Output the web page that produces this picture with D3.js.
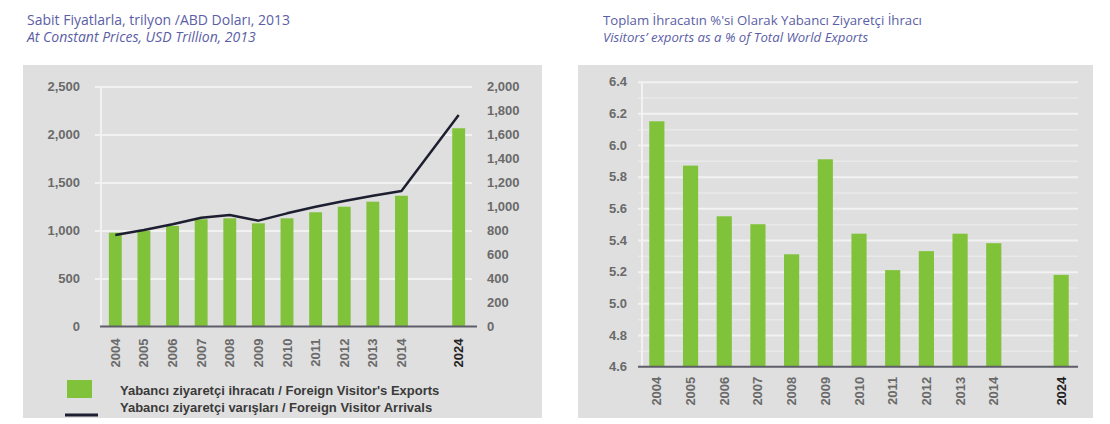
<!DOCTYPE html>
<html>
<head>
<meta charset="utf-8">
<script src="https://cdn.jsdelivr.net/npm/d3@7"></script>
<style>
  body { margin: 0; background: #fff; }
  svg { display: block; }
</style>
</head>
<body>
<svg width="1110" height="424"></svg>
<script>
// veriler
const years = ["2004","2005","2006","2007","2008","2009","2010","2011","2012","2013","2014","2024"];
const visitorExports = [977, 998, 1047, 1117, 1127, 1075, 1127, 1190, 1248, 1300, 1362, 2065];
const visitorArrivals = [762, 804, 852, 907, 929, 882, 943, 998, 1046, 1090, 1129, 1762];
const exportShare = [6.15, 5.87, 5.55, 5.50, 5.31, 5.91, 5.44, 5.21, 5.33, 5.44, 5.38, 5.18];
const leftTicks = [0, 500, 1000, 1500, 2000, 2500];
const rightTicks = [0, 200, 400, 600, 800, 1000, 1200, 1400, 1600, 1800, 2000];
const shareTicks = [4.6, 4.8, 5.0, 5.2, 5.4, 5.6, 5.8, 6.0, 6.2, 6.4];
const titlesLeft = ["Sabit Fiyatlarla, trilyon /ABD Doları, 2013", "At Constant Prices, USD Trillion, 2013"];
const titlesRight = ["Toplam İhracatın %'si Olarak Yabancı Ziyaretçi İhracı", "Visitors’ exports as a % of Total World Exports"];
const legendLabels = ["Yabancı ziyaretçi ihracatı / Foreign Visitor's Exports", "Yabancı ziyaretçi varışları / Foreign Visitor Arrivals"];

// 2014 ile 2024 arasinda bos bir yer var
const slots = [...years.slice(0, 11), "gap", "2024"];

const svg = d3.select("svg");
const bg = "#dfdfdf", green = "#80c23a", grid = "#f2f2f2";
const tickFont = "'Liberation Sans', Arial, sans-serif";
const titleFont = "'Open Sans', 'Noto Sans', sans-serif";

// basliklar
const drawTitles = (x, lines, size) => {
    const t = svg.append("g").attr("fill", "#5b5ea6").style("font-family", titleFont).style("font-size", size + "px");
    t.append("text").attr("x", x).attr("y", 25).text(lines[0]);
    t.append("text").attr("x", x).attr("y", 42).style("font-style", "italic").text(lines[1]);
};
drawTitles(27, titlesLeft, 14);
drawTitles(603, titlesRight, 13.2);

// arka plan panelleri
svg.append("rect").attr("x", 23).attr("y", 65).attr("width", 519).attr("height", 353).attr("fill", bg);
svg.append("rect").attr("x", 578).attr("y", 65).attr("width", 515).attr("height", 353).attr("fill", bg);

const styleTicks = sel => sel.selectAll("text")
    .style("font-family", tickFont).style("font-size", "13px").style("font-weight", "bold").attr("fill", "#6a6a6a");

//=============== sol grafik ================
{
    const x = d3.scaleBand().domain(slots).range([101, 473]).paddingInner(0.55).paddingOuter(0.275);
    const y = d3.scaleLinear().domain([0, 2500]).range([326.5, 86.5]);
    const y2 = d3.scaleLinear().domain([0, 2000]).range([326.5, 86.5]);
    const g = svg.append("g");

    // izgara
    g.append("g").attr("transform", "translate(95,0)")
        .call(d3.axisLeft(y).tickValues(leftTicks.slice(1)).tickSize(-377).tickFormat(""))
        .call(a => a.select(".domain").remove())
        .selectAll("line").attr("stroke", grid).attr("stroke-width", 2);
    g.append("line").attr("x1", 101).attr("x2", 101).attr("y1", y(2500)).attr("y2", y(0))
        .attr("stroke", grid).attr("stroke-width", 2);

    // eksenler
    g.append("g").attr("transform", "translate(83,0)")
        .call(d3.axisLeft(y).tickValues(leftTicks).tickSize(0).tickFormat(d3.format(",")))
        .call(a => a.select(".domain").remove())
        .call(styleTicks);
    g.append("g").attr("transform", "translate(484,0)")
        .call(d3.axisRight(y2).tickValues(rightTicks).tickSize(0).tickFormat(d3.format(",")))
        .call(a => a.select(".domain").remove())
        .call(styleTicks);

    // cubuklar
    g.selectAll(".bar").data(visitorExports).enter().append("rect")
        .attr("x", (d, i) => x(years[i]))
        .attr("y", d => y(d))
        .attr("width", x.bandwidth())
        .attr("height", d => y(0) - y(d))
        .attr("fill", green);

    // taban cizgisi
    g.append("line").attr("x1", 100).attr("x2", 477).attr("y1", y(0)).attr("y2", y(0))
        .attr("stroke", "#5e5e6a").attr("stroke-width", 2);

    // ziyaretci varislari cizgisi
    const line = d3.line().x((d, i) => x(years[i]) + x.bandwidth() / 2).y(d => y2(d));
    g.append("path").datum(visitorArrivals).attr("d", line)
        .attr("fill", "none").attr("stroke", "#1d1f30").attr("stroke-width", 2.5).attr("stroke-linejoin", "round");

    // x ekseni
    g.append("g").attr("transform", "translate(0," + y(0) + ")")
        .call(d3.axisBottom(x).tickValues(years).tickSize(0))
        .call(a => a.select(".domain").remove())
        .call(styleTicks)
        .selectAll("text")
        .attr("transform", "rotate(-90)")
        .attr("text-anchor", "end")
        .attr("x", -12).attr("y", 0).attr("dy", "0.35em")
        .attr("fill", d => d === "2024" ? "#222" : "#6a6a6a");

    // lejant
    const lg = svg.append("g").style("font-family", tickFont).style("font-size", "13px").style("font-weight", "bold").attr("fill", "#3a3a3a");
    lg.append("rect").attr("x", 67).attr("y", 380).attr("width", 25).attr("height", 18).attr("fill", green);
    lg.append("line").attr("x1", 65).attr("x2", 98).attr("y1", 415).attr("y2", 415).attr("stroke", "#1d1f30").attr("stroke-width", 3);
    lg.append("text").attr("x", 120).attr("y", 395).text(legendLabels[0]);
    lg.append("text").attr("x", 120).attr("y", 412).text(legendLabels[1]);
}

//=============== sag grafik ================
{
    const x = d3.scaleBand().domain(slots).range([640, 1078]).paddingInner(0.55).paddingOuter(0.275);
    const y = d3.scaleLinear().domain([4.6, 6.4]).range([366.7, 81.7]);
    const g = svg.append("g");

    // ara izgara
    g.append("g").attr("transform", "translate(638,0)")
        .call(d3.axisLeft(y).tickValues(shareTicks.slice(0, -1).map(d => d + 0.1)).tickSize(-440).tickFormat(""))
        .call(a => a.select(".domain").remove())
        .selectAll("line").attr("stroke", "#e9e9e9").attr("stroke-width", 1.5);
    g.append("g").attr("transform", "translate(638,0)")
        .call(d3.axisLeft(y).tickValues(shareTicks.slice(1)).tickSize(-440).tickFormat(""))
        .call(a => a.select(".domain").remove())
        .selectAll("line").attr("stroke", grid).attr("stroke-width", 2);
    g.append("line").attr("x1", 642).attr("x2", 642).attr("y1", y(6.4)).attr("y2", y(4.6))
        .attr("stroke", grid).attr("stroke-width", 2);

    g.append("g").attr("transform", "translate(630,0)")
        .call(d3.axisLeft(y).tickValues(shareTicks).tickSize(0).tickFormat(d3.format(".1f")))
        .call(a => a.select(".domain").remove())
        .call(styleTicks);

    g.selectAll(".bar").data(exportShare).enter().append("rect")
        .attr("x", (d, i) => x(years[i]))
        .attr("y", d => y(d))
        .attr("width", x.bandwidth())
        .attr("height", d => y(4.6) - y(d))
        .attr("fill", green);

    g.append("line").attr("x1", 638).attr("x2", 1078).attr("y1", y(4.6)).attr("y2", y(4.6))
        .attr("stroke", "#5e5e6a").attr("stroke-width", 2);

    g.append("g").attr("transform", "translate(0," + y(4.6) + ")")
        .call(d3.axisBottom(x).tickValues(years).tickSize(0))
        .call(a => a.select(".domain").remove())
        .call(styleTicks)
        .selectAll("text")
        .attr("transform", "rotate(-90)")
        .attr("text-anchor", "end")
        .attr("x", -10).attr("y", 0).attr("dy", "0.35em")
        .attr("fill", d => d === "2024" ? "#222" : "#6a6a6a");
}
</script>
</body>
</html>
